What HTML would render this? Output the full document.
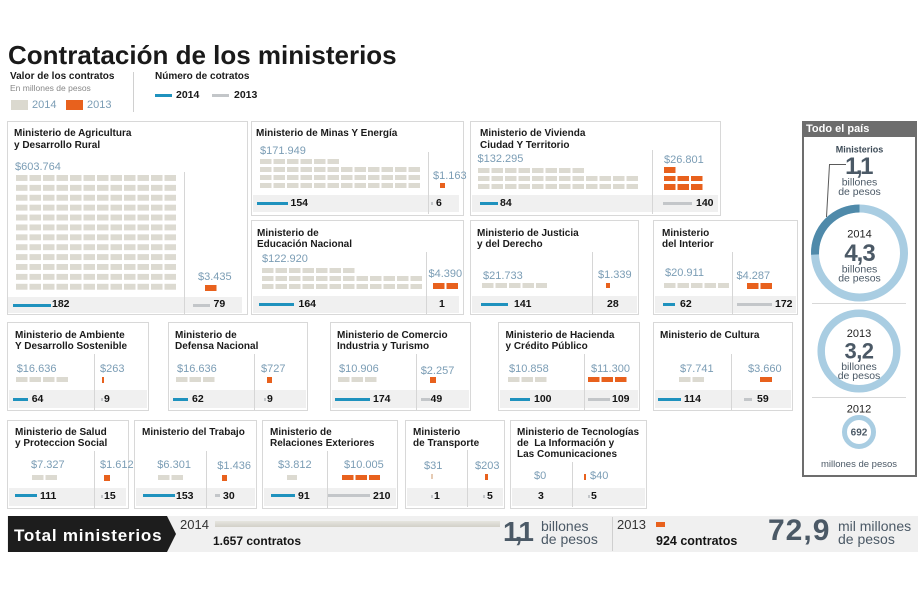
<!DOCTYPE html>
<html><head><meta charset="utf-8">
<style>
body{margin:0;background:#fff}
#c{position:relative;width:920px;height:613px;overflow:hidden;font-family:"Liberation Sans",Arial,sans-serif;background:#fff}
#c div{position:absolute;white-space:nowrap}
.bx{border:1px solid #d8d8d8;box-sizing:border-box;background:#fff}
.tt{font-weight:bold;font-size:10px;line-height:11.5px;color:#1b1b1b}
.v{font-size:11px;line-height:11px;color:#7b9db5}
.st{background:#f0f0f0}
.dv{width:1px;background:#d6d6d6}
.b{height:3px;background:#1f92be}
.gr{height:3px;background:#c3c6c9}
.tk{height:3px;width:2px;background:#c3c6c9}
.n{font-weight:bold;font-size:10.5px;line-height:10.5px;color:#141414}
.g{height:5px;background:linear-gradient(to right,rgba(255,255,255,0) 11.5px,#fff 11.5px) 0 0/13.5px 100% repeat-x,#dcdad1}
.o{height:5.5px;background:linear-gradient(to right,rgba(255,255,255,0) 11.5px,#fff 11.5px) 0 0/13.5px 100% repeat-x,#e8611d}
.os{background:#e8611d}
</style></head><body><div id="c">

<!-- Header -->
<div style="left:8px;top:41.6px;font-weight:bold;font-size:26px;line-height:26px;color:#1a1a1a">Contratación de los ministerios</div>
<div style="left:10px;top:72px;font-weight:bold;font-size:10px;line-height:10px;color:#1a1a1a">Valor de los contratos</div>
<div style="left:10px;top:83.5px;font-size:8.5px;line-height:8.5px;color:#888">En millones de pesos</div>
<div style="left:11px;top:100px;width:17px;height:10px;background:#dbd9cf"></div>
<div style="left:32px;top:99.6px;font-size:11px;line-height:11px;color:#7b9db5">2014</div>
<div style="left:66px;top:100px;width:17px;height:10px;background:#e8611d"></div>
<div style="left:87px;top:99.6px;font-size:11px;line-height:11px;color:#7b9db5">2013</div>
<div style="left:133px;top:72px;width:1px;height:40px;background:#d0d0d0"></div>
<div style="left:155px;top:72px;font-weight:bold;font-size:10px;line-height:10px;color:#1a1a1a">Número de cotratos</div>
<div style="left:155px;top:94px;width:17px;height:3px;background:#1f92be"></div>
<div style="left:176px;top:90.2px;font-weight:bold;font-size:10.5px;line-height:10.5px;color:#1a1a1a">2014</div>
<div style="left:212px;top:94px;width:17px;height:3px;background:#c3c6c9"></div>
<div style="left:234px;top:90.2px;font-weight:bold;font-size:10.5px;line-height:10.5px;color:#1a1a1a">2013</div>

<!-- Agricultura -->
<div class="bx" style="left:7px;top:121px;width:241px;height:194px"></div>
<div class="tt" style="left:14px;top:128px">Ministerio de Agricultura<br>y Desarrollo Rural</div>
<div class="v" style="left:15px;top:161.5px">$603.764</div>
<div style="left:16px;top:174.5px;width:160px;height:115px;background:linear-gradient(to right,rgba(255,255,255,0) 11.5px,#fff 11.5px) 0 0/13.5px 100%,linear-gradient(to bottom,rgba(255,255,255,0) 6px,#fff 6px) 0 0/100% 9.9px,#dcdad1"></div>
<div class="st" style="left:8px;top:297px;width:234px;height:16px"></div>
<div class="dv" style="left:184px;top:172px;height:142px"></div>
<div class="v" style="left:198px;top:272px">$3.435</div>
<div class="o" style="left:205px;top:285px;width:11.5px"></div>
<div class="b" style="left:13px;top:303.5px;width:38px"></div>
<div class="n" style="left:52px;top:299.3px">182</div>
<div class="gr" style="left:193px;top:303.5px;width:17px"></div>
<div class="n" style="left:213.5px;top:299.3px">79</div>

<!-- Minas -->
<div class="bx" style="left:251px;top:121px;width:213px;height:95px"></div>
<div class="tt" style="left:256px;top:128px">Ministerio de Minas Y Energía</div>
<div class="v" style="left:260px;top:145.5px">$171.949</div>
<div class="g" style="left:260px;top:158.5px;width:79px"></div>
<div class="g" style="left:260px;top:166.8px;width:160px"></div>
<div class="g" style="left:260px;top:175.1px;width:160px"></div>
<div class="g" style="left:260px;top:183.4px;width:160px"></div>
<div class="st" style="left:253px;top:195px;width:206px;height:17px"></div>
<div class="dv" style="left:428px;top:152px;height:62px"></div>
<div class="v" style="left:433px;top:171px">$1.163</div>
<div class="os" style="left:440px;top:183px;width:4.5px;height:5px"></div>
<div class="b" style="left:257px;top:201.5px;width:31px"></div>
<div class="n" style="left:290.5px;top:198px">154</div>
<div class="tk" style="left:430.5px;top:202px"></div>
<div class="n" style="left:436px;top:198px">6</div>

<!-- Vivienda -->
<div class="bx" style="left:470px;top:121px;width:251px;height:95px"></div>
<div class="tt" style="left:480px;top:128px">Ministerio de Vivienda<br>Ciudad Y Territorio</div>
<div class="v" style="left:477.5px;top:153.6px">$132.295</div>
<div class="g" style="left:477.5px;top:167.5px;width:106px"></div>
<div class="g" style="left:477.5px;top:175.8px;width:160px"></div>
<div class="g" style="left:477.5px;top:184.1px;width:160px"></div>
<div class="st" style="left:472px;top:195px;width:246px;height:17px"></div>
<div class="dv" style="left:652px;top:150px;height:64px"></div>
<div class="v" style="left:664px;top:155.3px">$26.801</div>
<div class="o" style="left:664px;top:167px;width:11.5px"></div>
<div class="o" style="left:664px;top:175.5px;width:38.5px"></div>
<div class="o" style="left:664px;top:184px;width:38.5px"></div>
<div class="b" style="left:480px;top:201.5px;width:18px"></div>
<div class="n" style="left:500px;top:198px">84</div>
<div class="gr" style="left:663px;top:201.5px;width:29px"></div>
<div class="n" style="left:696px;top:198px">140</div>

<!-- Educacion -->
<div class="bx" style="left:251px;top:220px;width:213px;height:95px"></div>
<div class="tt" style="left:257px;top:227.5px">Ministerio de<br>Educación Nacional</div>
<div class="v" style="left:262px;top:253.6px">$122.920</div>
<div class="g" style="left:262px;top:267.8px;width:92.5px"></div>
<div class="g" style="left:262px;top:276.1px;width:160px"></div>
<div class="g" style="left:262px;top:284.4px;width:160px"></div>
<div class="st" style="left:253px;top:296px;width:206px;height:17px"></div>
<div class="dv" style="left:426px;top:252px;height:62px"></div>
<div class="v" style="left:428.5px;top:268.5px">$4.390</div>
<div class="o" style="left:433px;top:283px;width:25px"></div>
<div class="b" style="left:259px;top:302.5px;width:35px"></div>
<div class="n" style="left:298.5px;top:299px">164</div>
<div class="n" style="left:439px;top:299px">1</div>

<!-- Justicia -->
<div class="bx" style="left:470px;top:220px;width:169px;height:95px"></div>
<div class="tt" style="left:477px;top:227.5px">Ministerio de Justicia<br>y del Derecho</div>
<div class="v" style="left:483px;top:271px">$21.733</div>
<div class="g" style="left:481.5px;top:283.4px;width:65.5px"></div>
<div class="st" style="left:472px;top:296px;width:165px;height:17px"></div>
<div class="dv" style="left:592px;top:252px;height:62px"></div>
<div class="v" style="left:598px;top:270px">$1.339</div>
<div class="os" style="left:606px;top:283.4px;width:4px;height:5px"></div>
<div class="b" style="left:481px;top:302.5px;width:27px"></div>
<div class="n" style="left:514px;top:299px">141</div>
<div class="n" style="left:607px;top:299px">28</div>

<!-- Interior -->
<div class="bx" style="left:653px;top:220px;width:145px;height:95px"></div>
<div class="tt" style="left:662px;top:227.5px">Ministerio<br>del Interior</div>
<div class="v" style="left:665px;top:267.5px">$20.911</div>
<div class="g" style="left:663.6px;top:283.4px;width:65.5px"></div>
<div class="st" style="left:655px;top:296px;width:141px;height:17px"></div>
<div class="dv" style="left:732px;top:252px;height:62px"></div>
<div class="v" style="left:736.5px;top:271px">$4.287</div>
<div class="o" style="left:747px;top:283px;width:25px"></div>
<div class="b" style="left:662.5px;top:302.5px;width:12.5px"></div>
<div class="n" style="left:680px;top:299px">62</div>
<div class="gr" style="left:736.5px;top:302.5px;width:35px"></div>
<div class="n" style="left:775px;top:299px">172</div>

<!-- Row 3 -->
<div class="bx" style="left:7px;top:322px;width:142px;height:89px"></div>
<div class="tt" style="left:15px;top:329.7px">Ministerio de Ambiente<br>Y Desarrollo Sostenible</div>
<div class="v" style="left:16.7px;top:363.6px">$16.636</div>
<div class="g" style="left:16px;top:377px;width:52px"></div>
<div class="st" style="left:9px;top:390px;width:138px;height:18px"></div>
<div class="dv" style="left:94px;top:354px;height:56px"></div>
<div class="v" style="left:100px;top:363.6px">$263</div>
<div class="os" style="left:102px;top:377px;width:2px;height:6px"></div>
<div class="b" style="left:13px;top:397.5px;width:15px"></div>
<div class="n" style="left:31.7px;top:393.6px">64</div>
<div class="tk" style="left:100.5px;top:398px"></div>
<div class="n" style="left:104px;top:393.6px">9</div>

<div class="bx" style="left:168px;top:322px;width:140px;height:89px"></div>
<div class="tt" style="left:175px;top:329.7px">Ministerio de<br>Defensa Nacional</div>
<div class="v" style="left:177px;top:363.6px">$16.636</div>
<div class="g" style="left:176px;top:377px;width:38.5px"></div>
<div class="st" style="left:170px;top:390px;width:136px;height:18px"></div>
<div class="dv" style="left:254px;top:354px;height:56px"></div>
<div class="v" style="left:261px;top:363.6px">$727</div>
<div class="os" style="left:266.7px;top:377px;width:5px;height:6px"></div>
<div class="b" style="left:173.3px;top:397.5px;width:15px"></div>
<div class="n" style="left:192px;top:393.6px">62</div>
<div class="tk" style="left:263.5px;top:398px"></div>
<div class="n" style="left:267px;top:393.6px">9</div>

<div class="bx" style="left:330px;top:322px;width:141px;height:89px"></div>
<div class="tt" style="left:337px;top:329.7px">Ministerio de Comercio<br>Industria y Turismo</div>
<div class="v" style="left:339px;top:363.6px">$10.906</div>
<div class="g" style="left:338px;top:377px;width:38.5px"></div>
<div class="st" style="left:332px;top:390px;width:137px;height:18px"></div>
<div class="dv" style="left:416px;top:354px;height:56px"></div>
<div class="v" style="left:420.7px;top:366px">$2.257</div>
<div class="os" style="left:430px;top:377px;width:5.5px;height:6px"></div>
<div class="b" style="left:335px;top:397.5px;width:35px"></div>
<div class="n" style="left:373px;top:393.6px">174</div>
<div class="gr" style="left:421px;top:397.5px;width:9px"></div>
<div class="n" style="left:430.5px;top:393.6px">49</div>

<div class="bx" style="left:498px;top:322px;width:142px;height:89px"></div>
<div class="tt" style="left:505.5px;top:329.7px">Ministerio de Hacienda<br>y Crédito Público</div>
<div class="v" style="left:509px;top:363.6px">$10.858</div>
<div class="g" style="left:508px;top:377px;width:38.5px"></div>
<div class="st" style="left:500px;top:390px;width:138px;height:18px"></div>
<div class="dv" style="left:584px;top:354px;height:56px"></div>
<div class="v" style="left:591px;top:363.6px">$11.300</div>
<div class="o" style="left:588px;top:376.5px;width:38.5px"></div>
<div class="b" style="left:510px;top:397.5px;width:20px"></div>
<div class="n" style="left:534px;top:393.6px">100</div>
<div class="gr" style="left:588px;top:397.5px;width:22px"></div>
<div class="n" style="left:612px;top:393.6px">109</div>

<div class="bx" style="left:653px;top:322px;width:140px;height:89px"></div>
<div class="tt" style="left:660px;top:329.7px">Ministerio de Cultura</div>
<div class="v" style="left:680px;top:363.6px">$7.741</div>
<div class="g" style="left:679px;top:377px;width:25px"></div>
<div class="st" style="left:655px;top:390px;width:136px;height:18px"></div>
<div class="dv" style="left:731px;top:354px;height:56px"></div>
<div class="v" style="left:748px;top:363.6px">$3.660</div>
<div class="os" style="left:760px;top:376.5px;width:12px;height:5.5px"></div>
<div class="b" style="left:658px;top:397.5px;width:22.5px"></div>
<div class="n" style="left:684px;top:393.6px">114</div>
<div class="gr" style="left:744px;top:397.5px;width:8px"></div>
<div class="n" style="left:757px;top:393.6px">59</div>

<!-- Row 4 -->
<div class="bx" style="left:7px;top:420px;width:122px;height:89px"></div>
<div class="tt" style="left:15px;top:426.7px">Ministerio de Salud<br>y Proteccion Social</div>
<div class="v" style="left:31px;top:459.6px">$7.327</div>
<div class="g" style="left:32px;top:474.5px;width:25px"></div>
<div class="st" style="left:9px;top:488px;width:117px;height:18px"></div>
<div class="dv" style="left:94px;top:451px;height:57px"></div>
<div class="v" style="left:100px;top:459.6px">$1.612</div>
<div class="os" style="left:104px;top:474.5px;width:6px;height:6px"></div>
<div class="b" style="left:15px;top:494px;width:22px"></div>
<div class="n" style="left:40px;top:490.6px">111</div>
<div class="tk" style="left:100.5px;top:494.5px"></div>
<div class="n" style="left:104px;top:490.6px">15</div>

<div class="bx" style="left:134px;top:420px;width:123px;height:89px"></div>
<div class="tt" style="left:142px;top:426.7px">Ministerio del Trabajo</div>
<div class="v" style="left:157.3px;top:459.6px">$6.301</div>
<div class="g" style="left:158px;top:474.5px;width:25px"></div>
<div class="st" style="left:136px;top:488px;width:119px;height:18px"></div>
<div class="dv" style="left:206px;top:451px;height:57px"></div>
<div class="v" style="left:217.3px;top:461px">$1.436</div>
<div class="os" style="left:222px;top:474.5px;width:5px;height:6px"></div>
<div class="b" style="left:143.3px;top:494px;width:31.7px"></div>
<div class="n" style="left:176px;top:490.6px">153</div>
<div class="gr" style="left:215px;top:494px;width:5px"></div>
<div class="n" style="left:223px;top:490.6px">30</div>

<div class="bx" style="left:262px;top:420px;width:136px;height:89px"></div>
<div class="tt" style="left:270px;top:426.7px">Ministerio de<br>Relaciones Exteriores</div>
<div class="v" style="left:278px;top:459.6px">$3.812</div>
<div class="g" style="left:287px;top:474.5px;width:10px"></div>
<div class="st" style="left:264px;top:488px;width:132px;height:18px"></div>
<div class="dv" style="left:327px;top:451px;height:57px"></div>
<div class="v" style="left:344px;top:459.6px">$10.005</div>
<div class="o" style="left:341.5px;top:474.5px;width:38.5px"></div>
<div class="b" style="left:271px;top:494px;width:24px"></div>
<div class="n" style="left:298px;top:490.6px">91</div>
<div class="gr" style="left:328px;top:494px;width:42px"></div>
<div class="n" style="left:373px;top:490.6px">210</div>

<div class="bx" style="left:405px;top:420px;width:100px;height:89px"></div>
<div class="tt" style="left:413px;top:426.7px">Ministerio<br>de Transporte</div>
<div class="v" style="left:424px;top:460.6px">$31</div>
<div style="left:430.5px;top:474px;width:2px;height:5px;background:#e6cbb4"></div>
<div class="st" style="left:407px;top:488px;width:96px;height:18px"></div>
<div class="dv" style="left:467px;top:450px;height:57px"></div>
<div class="v" style="left:475px;top:460.6px">$203</div>
<div class="os" style="left:485px;top:474px;width:3px;height:6px"></div>
<div class="tk" style="left:430.5px;top:494.5px"></div>
<div class="n" style="left:434px;top:490.6px">1</div>
<div class="tk" style="left:483px;top:494.5px"></div>
<div class="n" style="left:487px;top:490.6px">5</div>

<div class="bx" style="left:510px;top:420px;width:137px;height:89px"></div>
<div class="tt" style="left:517px;top:426.7px;line-height:11.3px">Ministerio de Tecnologías<br>de&nbsp; La Información y<br>Las Comunicaciones</div>
<div class="v" style="left:534px;top:470.6px">$0</div>
<div class="st" style="left:512px;top:488px;width:133px;height:18px"></div>
<div class="dv" style="left:572px;top:462px;height:45px"></div>
<div class="os" style="left:584px;top:473.5px;width:2px;height:6px"></div>
<div class="v" style="left:590px;top:470.6px">$40</div>
<div class="n" style="left:538px;top:490.6px">3</div>
<div class="tk" style="left:587.5px;top:494.5px"></div>
<div class="n" style="left:591px;top:490.6px">5</div>

<!-- Bottom bar -->
<div style="left:7px;top:516px;width:911px;height:36px;background:#f0f0f0"></div>
<div style="left:8px;top:516px;width:168px;height:36px;background:#1d1d1d;clip-path:polygon(0 0,159px 0,168px 50%,159px 100%,0 100%)"></div>
<div style="left:14px;top:527.3px;font-weight:bold;font-size:17px;line-height:17px;letter-spacing:0.8px;color:#fff">Total ministerios</div>
<div style="left:180px;top:518px;font-size:13px;line-height:13px;color:#333">2014</div>
<div style="left:215px;top:521px;width:285px;height:6px;background:linear-gradient(#e6e5df,#d2d0c8)"></div>
<div style="left:213px;top:534.5px;font-weight:bold;font-size:12px;line-height:12px;color:#151515">1.657 contratos</div>
<div style="left:503px;top:518px;font-weight:bold;font-size:28px;line-height:28px;letter-spacing:-4px;color:#4b5966">1,1</div>
<div style="left:541px;top:520px;font-size:14px;line-height:13px;color:#4b5966">billones<br>de pesos</div>
<div style="left:612px;top:517px;width:1px;height:34px;background:#cfcfcf"></div>
<div style="left:617px;top:518px;font-size:13px;line-height:13px;color:#333">2013</div>
<div style="left:656px;top:522px;width:9px;height:5px;background:#e8611d"></div>
<div style="left:656px;top:534.5px;font-weight:bold;font-size:12.5px;line-height:12.5px;color:#151515">924 contratos</div>
<div style="left:768px;top:516px;font-weight:bold;font-size:30px;line-height:30px;letter-spacing:1px;color:#4b5966">72,9</div>
<div style="left:838px;top:520px;font-size:14px;line-height:13px;color:#4b5966">mil millones<br>de pesos</div>

<!-- Sidebar -->
<div style="left:802px;top:121px;width:115px;height:356px;border:2px solid #6d6d6d;box-sizing:border-box;background:#fff"></div>
<div style="left:802px;top:121px;width:115px;height:16px;background:#6d6d6d"></div>
<div style="left:806px;top:123.6px;font-weight:bold;font-size:11px;line-height:11px;color:#fff">Todo el país</div>

<svg style="position:absolute;left:0;top:0" width="920" height="613" viewBox="0 0 920 613">
<g font-family="Liberation Sans, Arial, sans-serif" text-anchor="middle">
<circle cx="859.5" cy="253" r="44.5" fill="none" stroke="#a9cde2" stroke-width="8"/>
<path d="M859.5 208.5 A44.5 44.5 0 0 0 815.03 254.55" fill="none" stroke="#4f8aaa" stroke-width="8"/>
<polyline points="846,164.5 829.5,164.5 826.5,217" fill="none" stroke="#5a5a5a" stroke-width="1"/>
<line x1="812" y1="303.5" x2="906" y2="303.5" stroke="#d8d8d8" stroke-width="1"/>
<circle cx="859" cy="351" r="37.8" fill="none" stroke="#a9cde2" stroke-width="7.5"/>
<line x1="812" y1="397.5" x2="906" y2="397.5" stroke="#d8d8d8" stroke-width="1"/>
<circle cx="859" cy="432" r="14.5" fill="none" stroke="#a9cde2" stroke-width="5"/>

<text x="859.5" y="152.5" font-size="9" font-weight="bold" fill="#3d4b57">Ministerios</text>
<text x="858" y="174" font-size="24" font-weight="bold" fill="#4b5966" letter-spacing="-2.5">1,1</text>
<text x="859.5" y="185.5" font-size="10.5" fill="#4b5966">billones</text>
<text x="859.5" y="195" font-size="10.5" fill="#4b5966">de pesos</text>
<text x="859.5" y="237.6" font-size="11" fill="#222">2014</text>
<text x="859.5" y="261" font-size="24" font-weight="bold" fill="#4b5966" letter-spacing="-1">4,3</text>
<text x="859.5" y="272.5" font-size="10.5" fill="#4b5966">billones</text>
<text x="859.5" y="281.5" font-size="10.5" fill="#4b5966">de pesos</text>
<text x="859" y="337" font-size="11" fill="#222">2013</text>
<text x="859" y="358.5" font-size="22" font-weight="bold" fill="#4b5966" letter-spacing="-0.5">3,2</text>
<text x="859" y="370" font-size="10.5" fill="#4b5966">billones</text>
<text x="859" y="379" font-size="10.5" fill="#4b5966">de pesos</text>
<text x="859" y="412.5" font-size="11" fill="#222">2012</text>
<text x="859" y="435.5" font-size="10" font-weight="bold" fill="#4b5966">692</text>
<text x="859" y="467" font-size="9.5" fill="#4b5966">millones de pesos</text>
</g>
</svg>

</div></body></html>
